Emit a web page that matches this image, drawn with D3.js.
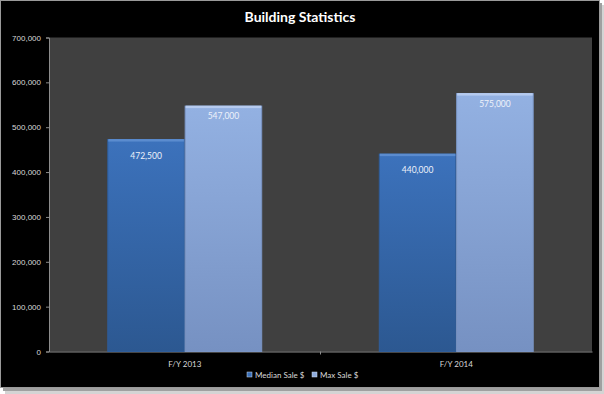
<!DOCTYPE html>
<html>
<head>
<meta charset="utf-8">
<script src="https://cdn.jsdelivr.net/npm/d3@7"></script>
<style>
  body { margin: 0; background: #fff; }
  svg { display: block; font-family: Lato, "Open Sans", sans-serif; }
</style>
</head>
<body>
<svg id="chart"></svg>
<script>
const width = 604
const height = 394

// chart data
const categories = ["F/Y 2013", "F/Y 2014"]
const seriesNames = ["Median Sale $", "Max Sale $"]
const medianSale = [472500, 440000]
const maxSale = [547000, 575000]
const yTicks = [0, 100000, 200000, 300000, 400000, 500000, 600000, 700000]

const svg = d3.select("#chart")
            .attr("width", width)
            .attr("height", height);

// drop shadow + black frame
svg.append("rect").attr("x", 5).attr("y", 5).attr("width", 599).attr("height", 389).attr("fill", "#d4d4d4")
svg.append("rect").attr("x", 3).attr("y", 3).attr("width", 599).attr("height", 388).attr("fill", "#a0a0a0")
svg.append("rect").attr("x", 0.5).attr("y", 0.5).attr("width", 599).attr("height", 387)
   .attr("fill", "#000").attr("stroke", "#9a9a9a").attr("stroke-width", 1)

const defs = svg.append("defs")
function grad(id, top, bottom) {
    const g = defs.append("linearGradient").attr("id", id)
                  .attr("x1", 0).attr("y1", 0).attr("x2", 0).attr("y2", 1)
    g.append("stop").attr("offset", "0%").attr("stop-color", top)
    g.append("stop").attr("offset", "100%").attr("stop-color", bottom)
}
grad("g-median", "#3c72bc", "#2c5891")
grad("g-max", "#93b1e2", "#7691c2")
const colors = ["#3a6fb8", "#8eabdc"]

const margin = {left: 49, right: 12, top: 37.5, bottom: 42.5}

const x = d3.scaleBand()
            .domain(categories)
            .range([margin.left, width - margin.right])
            .paddingInner(0)
            .paddingOuter(0)

const xs = d3.scaleBand()
             .domain(seriesNames)
             .range([0, x.bandwidth()])
             .paddingOuter(0.76)
             .paddingInner(0.01)

const y = d3.scaleLinear()
            .domain([0, 700000])
            .range([height - margin.bottom, margin.top])

// plot area
svg.append("rect")
   .attr("x", margin.left).attr("y", margin.top)
   .attr("width", width - margin.right - margin.left)
   .attr("height", y(0) - margin.top)
   .attr("fill", "#404040")

// title
svg.append("text")
   .attr("x", 300).attr("y", 22)
   .attr("text-anchor", "middle")
   .attr("fill", "#fff")
   .attr("font-size", 14)
   .attr("font-weight", "bold")
   .text("Building Statistics")

// y axis
const yAxis = svg.append("g")
   .attr("transform", `translate(${margin.left},0)`)
   .call(d3.axisLeft(y).tickValues(yTicks).tickSize(3).tickFormat(d3.format(",")))
yAxis.select(".domain").attr("stroke", "#8c8c8c")
yAxis.selectAll(".tick line").attr("stroke", "#8c8c8c")
yAxis.selectAll(".tick text").attr("fill", "#d9d9d9").attr("font-size", 8).attr("x", -8)

// x axis
const xAxis = svg.append("g")
   .attr("transform", `translate(0,${y(0)})`)
   .call(d3.axisBottom(x).tickSize(0).tickPadding(10))
xAxis.select(".domain").attr("stroke", "#8c8c8c")
xAxis.selectAll(".tick text").attr("fill", "#d9d9d9").attr("font-size", 8).attr("font-family", "Lato, sans-serif")
xAxis.append("line")
   .attr("x1", x("F/Y 2014")).attr("x2", x("F/Y 2014"))
   .attr("y1", 0).attr("y2", 3).attr("stroke", "#8c8c8c")

// bars
const rows = categories.map((c, i) => ({cat: c, values: [medianSale[i], maxSale[i]]}))
const groups = svg.selectAll(".grp")
   .data(rows)
   .enter()
   .append("g")
   .attr("transform", d => `translate(${x(d.cat)},0)`)

const barData = d => d.values.map((v, j) => ({s: seriesNames[j], v: v, j: j}))

groups.selectAll("rect.bar")
   .data(barData)
   .enter()
   .append("rect")
   .attr("class", "bar")
   .attr("x", d => xs(d.s))
   .attr("y", d => y(d.v))
   .attr("width", xs.bandwidth())
   .attr("height", d => y(0) - y(d.v))
   .attr("fill", d => d.j === 0 ? "url(#g-median)" : "url(#g-max)")
   .attr("stroke", d => d.j === 0 ? "#2f5d9a" : "#7a95c5")
   .attr("stroke-width", 1)

// top bevel highlight
groups.selectAll("rect.hl")
   .data(barData)
   .enter()
   .append("rect")
   .attr("x", d => xs(d.s) + 0.5)
   .attr("y", d => y(d.v) - 0.5)
   .attr("width", xs.bandwidth() - 1)
   .attr("height", 2.5)
   .attr("fill", d => d.j === 0 ? "#5b8ccf" : "#b6cbef")

// data labels (median labels sit a bit lower, as in the original)
groups.selectAll("text.lbl")
   .data(barData)
   .enter()
   .append("text")
   .attr("x", d => xs(d.s) + xs.bandwidth() / 2)
   .attr("y", d => y(d.v) + (d.j === 0 ? 19 : 13))
   .attr("text-anchor", "middle")
   .attr("fill", "#eef2fa")
   .attr("font-size", 8.5)
   .text(d => d3.format(",")(d.v))

// legend
const legend = svg.append("g").attr("transform", "translate(247,377)")
const legendX = [0, 65]
seriesNames.forEach((n, i) => {
    legend.append("rect")
       .attr("x", legendX[i]).attr("y", -5)
       .attr("width", 5).attr("height", 5)
       .attr("fill", colors[i]).attr("stroke", "#cfd9ea").attr("stroke-width", 0.5)
    legend.append("text")
       .attr("x", legendX[i] + 8).attr("y", 0.5)
       .attr("fill", "#d9d9d9")
       .attr("font-size", 8)
       .text(n)
})
</script>
</body>
</html>
